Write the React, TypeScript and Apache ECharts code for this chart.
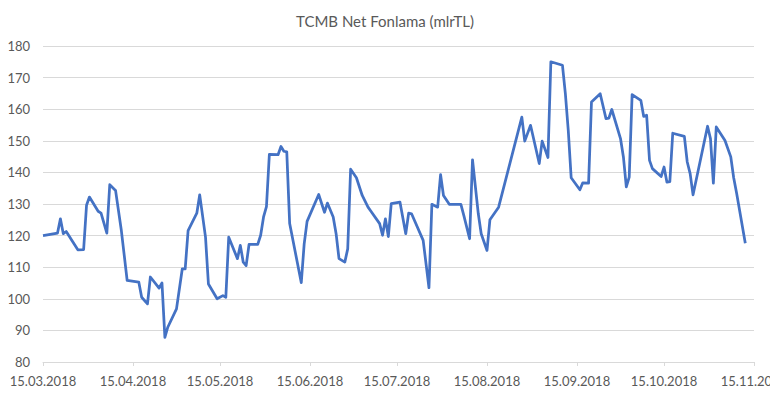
import React, { useEffect, useRef } from "react";
import * as echarts from "echarts";

const TITLE = "TCMB Net Fonlama (mlrTL)";
const AXIS_START = "15.03.2018";
const AXIS_END = "15.11.2018";
const Y_MIN = 80;
const Y_MAX = 180;
const Y_STEP = 10;

const dates: string[] = [
  "15.03.2018", "20.03.2018", "21.03.2018", "22.03.2018", "23.03.2018", "27.03.2018", "29.03.2018", "30.03.2018",
  "31.03.2018", "03.04.2018", "04.04.2018", "06.04.2018", "07.04.2018", "09.04.2018", "11.04.2018", "13.04.2018",
  "17.04.2018", "18.04.2018", "20.04.2018", "21.04.2018", "24.04.2018", "25.04.2018", "26.04.2018", "27.04.2018",
  "30.04.2018", "02.05.2018", "03.05.2018", "04.05.2018", "07.05.2018", "08.05.2018", "10.05.2018", "11.05.2018",
  "14.05.2018", "16.05.2018", "17.05.2018", "18.05.2018", "21.05.2018", "22.05.2018", "23.05.2018", "24.05.2018",
  "25.05.2018", "28.05.2018", "29.05.2018", "30.05.2018", "31.05.2018", "01.06.2018", "04.06.2018", "05.06.2018",
  "06.06.2018", "07.06.2018", "08.06.2018", "12.06.2018", "13.06.2018", "14.06.2018", "18.06.2018", "20.06.2018",
  "21.06.2018", "23.06.2018", "24.06.2018", "25.06.2018", "27.06.2018", "28.06.2018", "29.06.2018", "01.07.2018",
  "03.07.2018", "05.07.2018", "06.07.2018", "09.07.2018", "10.07.2018", "11.07.2018", "12.07.2018", "13.07.2018",
  "16.07.2018", "18.07.2018", "19.07.2018", "20.07.2018", "24.07.2018", "26.07.2018", "27.07.2018", "29.07.2018",
  "30.07.2018", "31.07.2018", "02.08.2018", "06.08.2018", "07.08.2018", "09.08.2018", "10.08.2018", "12.08.2018",
  "13.08.2018", "15.08.2018", "16.08.2018", "19.08.2018", "27.08.2018", "28.08.2018", "30.08.2018", "02.09.2018",
  "03.09.2018", "05.09.2018", "06.09.2018", "10.09.2018", "11.09.2018", "12.09.2018", "13.09.2018", "16.09.2018",
  "17.09.2018", "19.09.2018", "20.09.2018", "23.09.2018", "25.09.2018", "26.09.2018", "27.09.2018", "30.09.2018",
  "01.10.2018", "02.10.2018", "03.10.2018", "04.10.2018", "07.10.2018", "08.10.2018", "09.10.2018", "10.10.2018",
  "11.10.2018", "14.10.2018", "15.10.2018", "16.10.2018", "17.10.2018", "18.10.2018", "22.10.2018", "23.10.2018",
  "24.10.2018", "25.10.2018", "30.10.2018", "31.10.2018", "01.11.2018", "02.11.2018", "05.11.2018", "07.11.2018",
  "08.11.2018", "09.11.2018", "12.11.2018",
];

const values: number[] = [
  120.0, 120.8, 125.3, 120.6, 121.3, 115.5, 115.6, 129.6,
  132.2, 127.7, 127.1, 120.8, 136.1, 134.3, 121.6, 105.8,
  105.3, 100.5, 98.4, 106.9, 103.4, 105.0, 87.8, 91.0,
  96.8, 109.5, 109.5, 121.6, 127.1, 132.9, 119.5, 104.7,
  100.0, 101.0, 100.5, 119.5, 112.7, 116.9, 111.6, 110.5,
  117.2, 117.2, 120.1, 125.9, 129.2, 145.7, 145.6, 148.2,
  146.7, 146.5, 123.8, 105.1, 117.4, 124.5, 133.0, 127.4,
  130.3, 125.9, 120.6, 112.7, 111.6, 115.8, 141.0, 138.3,
  132.7, 129.0, 127.7, 123.8, 120.1, 125.3, 119.7, 130.1,
  130.6, 120.6, 127.1, 126.9, 118.5, 103.5, 129.9, 129.0,
  139.3, 132.7, 129.9, 129.9, 126.4, 119.0, 144.0, 126.9,
  120.6, 115.3, 125.0, 129.0, 157.5, 149.9, 154.9, 142.8,
  149.9, 144.7, 175.0, 173.9, 164.9, 153.3, 138.3, 134.5,
  136.7, 136.6, 162.3, 164.9, 157.0, 157.2, 159.9, 150.7,
  144.9, 135.4, 138.5, 164.6, 162.8, 157.7, 158.1, 143.8,
  141.2, 138.7, 141.7, 136.9, 137.1, 152.4, 151.4, 143.3,
  139.6, 132.9, 154.6, 150.7, 136.6, 154.4, 150.1, 144.9,
  138.3, 133.5, 117.6,
];

function parseDate(s: string): number {
  const [d, m, y] = s.split(".").map(Number);
  return Date.UTC(y, m - 1, d);
}

function fmt(t: number): string {
  const dt = new Date(t);
  const dd = String(dt.getUTCDate()).padStart(2, "0");
  const mm = String(dt.getUTCMonth() + 1).padStart(2, "0");
  return `${dd}.${mm}.${dt.getUTCFullYear()}`;
}

function buildCategories(): string[] {
  const out: string[] = [];
  const end = parseDate(AXIS_END);
  for (let t = parseDate(AXIS_START); t <= end; t += 86400000) out.push(fmt(t));
  return out;
}

export default function App() {
  const ref = useRef<HTMLDivElement>(null);

  useEffect(() => {
    if (!ref.current) return;
    const chart = echarts.init(ref.current, null, { renderer: "svg" });
    const categories = buildCategories();
    const isMid = (_i: number, v: string) => v.startsWith("15.");
    const font = "Lato, 'Open Sans', sans-serif";
    chart.setOption({
      animation: false,
      backgroundColor: "#ffffff",
      title: {
        text: TITLE,
        left: "center",
        top: 8,
        textStyle: { color: "#595959", fontSize: 15, fontWeight: "normal", fontFamily: font },
      },
      grid: { left: 43, right: 16, top: 46, bottom: 36, containLabel: false, outerBoundsMode: "none" },
      xAxis: {
        type: "category",
        data: categories,
        boundaryGap: false,
        axisLine: { show: true, lineStyle: { color: "#d9d9d9", width: 1 } },
        axisTick: { show: true, interval: isMid, length: 4, lineStyle: { color: "#d9d9d9" } },
        axisLabel: {
          interval: isMid,
          color: "#595959",
          fontSize: 13,
          fontFamily: font,
          margin: 12,
          showMaxLabel: true,
          hideOverlap: false,
        },
        splitLine: { show: false },
      },
      yAxis: {
        type: "value",
        min: Y_MIN,
        max: Y_MAX,
        interval: Y_STEP,
        axisLine: { show: false },
        axisTick: { show: false },
        axisLabel: { color: "#595959", fontSize: 13, fontFamily: font, margin: 13 },
        splitLine: { lineStyle: { color: "#d9d9d9", width: 1 } },
      },
      series: [
        {
          type: "line",
          data: dates.map((d, i) => [d, values[i]]),
          showSymbol: false,
          lineStyle: { color: "#4472C4", width: 2.75, join: "round" },
          itemStyle: { color: "#4472C4" },
        },
      ],
    });
    return () => chart.dispose();
  }, []);

  return (
    <div
      ref={ref}
      style={{ position: "absolute", left: 0, top: 0, width: 770, height: 398 }}
    />
  );
}
